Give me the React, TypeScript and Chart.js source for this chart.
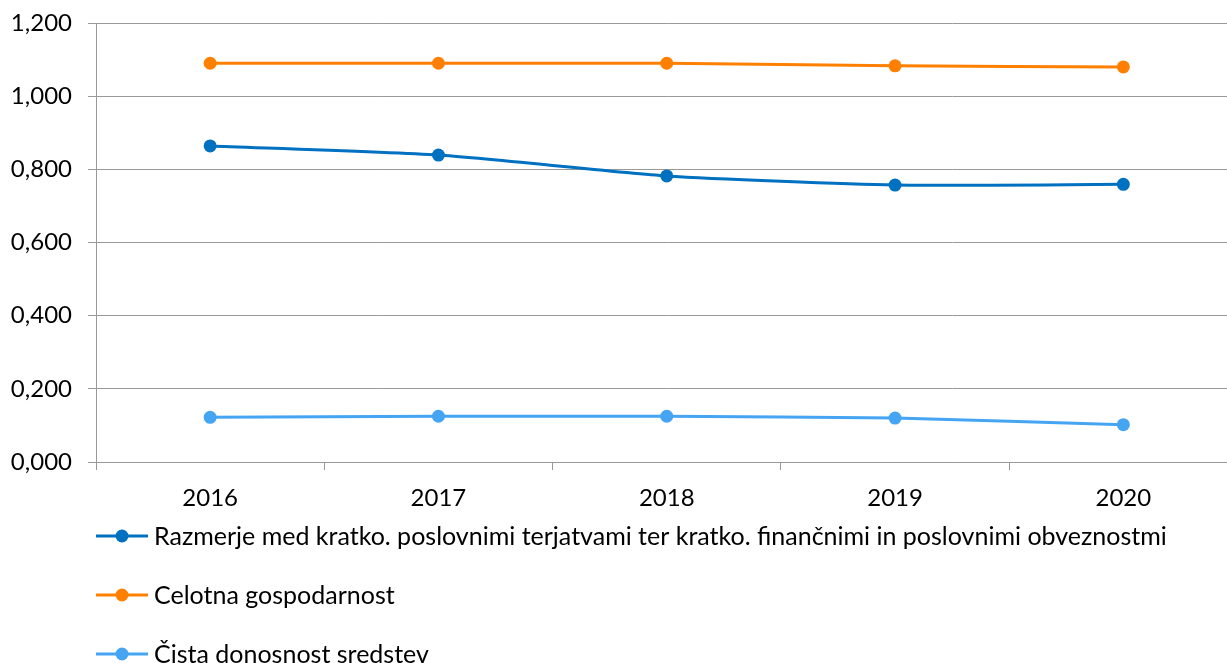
import React, { useEffect, useRef } from 'react';
import { Chart, registerables } from 'chart.js';
Chart.register(...registerables);

const years = ['2016', '2017', '2018', '2019', '2020'];
const razmerje = [0.864, 0.839, 0.782, 0.757, 0.759];
const celotna = [1.090, 1.090, 1.090, 1.083, 1.080];
const cista = [0.122, 0.125, 0.125, 0.120, 0.102];
const seriesNames = [
  'Razmerje med kratko. poslovnimi terjatvami ter kratko. finančnimi in poslovnimi obveznostmi',
  'Celotna gospodarnost',
  'Čista donosnost sredstev',
];
const seriesColors = ['#0070C0', '#FF8000', '#45A5F3'];
const yMin = 0;
const yMax = 1.2;
const yStep = 0.2;

const FONT = 'Lato, "Open Sans", sans-serif';

const legendPlugin = {
  id: 'stackedLegend',
  afterDraw(chart: any) {
    const ctx = chart.ctx;
    const rows = [536, 595, 654];
    ctx.save();
    chart.data.datasets.forEach((ds: any, i: number) => {
      const y = rows[i];
      ctx.strokeStyle = ds.borderColor;
      ctx.lineWidth = 3;
      ctx.beginPath();
      ctx.moveTo(96, y);
      ctx.lineTo(148, y);
      ctx.stroke();
      ctx.fillStyle = ds.borderColor;
      ctx.beginPath();
      ctx.arc(122, y, 6.5, 0, Math.PI * 2);
      ctx.fill();
      ctx.fillStyle = '#000';
      ctx.font = '25px ' + FONT;
      ctx.textBaseline = 'middle';
      ctx.textAlign = 'left';
      ctx.fillText(ds.label, 154, y + 1);
    });
    ctx.restore();
  },
};

export default function App() {
  const ref = useRef<HTMLCanvasElement | null>(null);
  useEffect(() => {
    document.body.style.margin = '0';
    const canvas = ref.current!;
    const seriesData = [razmerje, celotna, cista];
    const chart = new Chart(canvas, {
      type: 'line',
      data: {
        labels: years,
        datasets: seriesData.map((d, i) => ({
          label: seriesNames[i],
          data: d,
          borderColor: seriesColors[i],
          backgroundColor: seriesColors[i],
          borderWidth: 3,
          pointRadius: 6.5,
          pointHoverRadius: 6.5,
          pointBorderWidth: 0,
          tension: 0.2,
          fill: false,
        })),
      },
      options: {
        responsive: false,
        animation: false,
        devicePixelRatio: 1,
        layout: { padding: { top: 23, right: 0, left: 0, bottom: 0 } },
        plugins: {
          legend: { display: false },
          tooltip: { enabled: false },
        },
        scales: {
          x: {
            offset: true,
            grid: {
              offset: true,
              drawOnChartArea: false,
              drawTicks: true,
              tickLength: 8,
              color: '#999999',
              lineWidth: 1,
            },
            border: { color: '#999999', width: 1 },
            ticks: {
              color: '#000',
              font: { family: FONT, size: 24 },
              padding: 14,
              maxRotation: 0,
            },
            afterFit(scale: any) {
              scale.height = 663 - 462;
              scale.paddingLeft = 0;
              scale.paddingRight = 0;
            },
          },
          y: {
            min: yMin,
            max: yMax,
            ticks: {
              stepSize: yStep,
              color: '#000',
              font: { family: FONT, size: 24 },
              padding: 16,
              callback: (v: any) => Number(v).toFixed(3).replace('.', ','),
            },
            grid: {
              color: '#999999',
              lineWidth: 1,
              tickLength: 8,
            },
            border: { color: '#999999', width: 1 },
            afterFit(scale: any) {
              scale.width = 96;
              scale.paddingTop = 0;
              scale.paddingBottom = 0;
            },
          },
        },
      },
      plugins: [legendPlugin],
    });
    return () => chart.destroy();
  }, []);
  return (
    <div style={{ width: 1227, height: 663, overflow: 'hidden', position: 'relative', background: '#fff' }}>
      <canvas ref={ref} width={1244} height={663} style={{ display: 'block', width: 1244, height: 663 }} />
    </div>
  );
}
